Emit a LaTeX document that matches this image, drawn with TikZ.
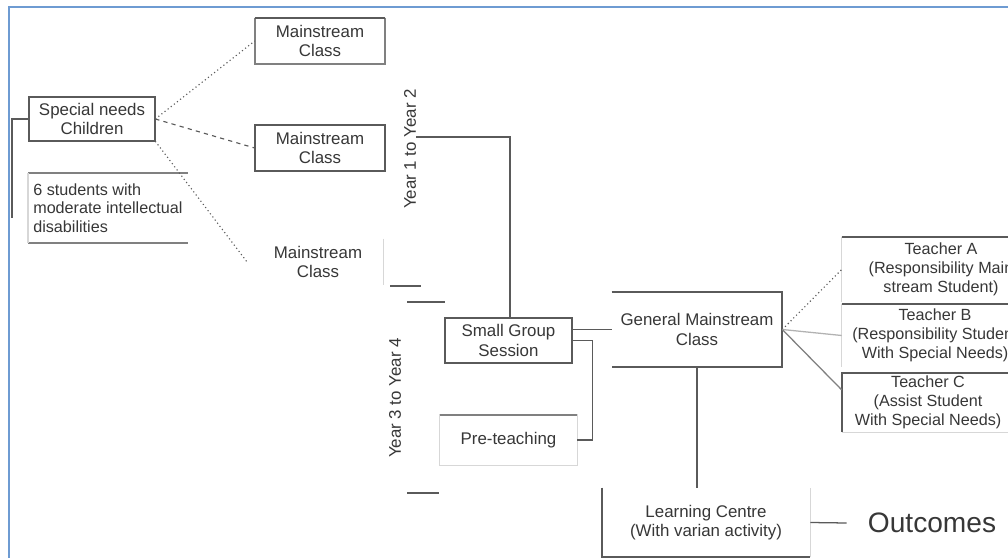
\documentclass[tikz,border=0pt]{standalone}
\usepackage{fontspec}
\setmainfont{Liberation Sans}
\definecolor{frameblue}{RGB}{110,155,210}
\definecolor{inkgray}{RGB}{55,55,55}
\definecolor{edgegray}{RGB}{90,90,90}
\definecolor{faintgray}{RGB}{215,215,215}
\begin{document}
\begin{tikzpicture}[x=0.025cm, y=-0.025cm,
    every node/.style={text=inkgray, font=\fontsize{12}{14}\selectfont, align=center, inner sep=0pt},
    frame/.style={draw=frameblue, line width=1.5pt},
    boxline/.style={draw=edgegray, line width=1.2pt},
    softline/.style={draw=faintgray, line width=0.8pt},
    link/.style={draw=edgegray, line width=0.9pt},
    dotlink/.style={draw=edgegray, line width=0.8pt, dotted},
    dashlink/.style={draw=edgegray, line width=0.8pt, dashed}]
    \useasboundingbox (0,0) rectangle (1008,558);
    \fill[white] (0,0) rectangle (1008,558);
    \draw[frame] (9,558) |- (1008,7);

    \begin{scope}
    \clip (10,8) rectangle (1008,558);

    % left column
    \node[minimum width=3.15cm, minimum height=1.1cm] (sn) at (92,119) {Special needs\\Children};
    \draw[boxline] (sn.north west) rectangle (sn.south east);
    \node[anchor=west, align=left, font=\fontsize{11.5}{13}\selectfont] (stud) at (33,208)
        {6 students with\\moderate intellectual\\disabilities};
    \coordinate (studtl) at (28,173);
    \coordinate (studbr) at (188,243);
    \draw[boxline, draw=gray] (studtl) -- (studtl -| studbr);
    \draw[boxline, draw=gray] (studtl |- studbr) -- (studbr);
    \draw[softline] (studtl) -- (studtl |- studbr);
    \coordinate (brk) at (12,218);
    \draw[link] (sn.west) -| (brk);

    % mainstream classes
    \node[minimum width=3.25cm, minimum height=1.15cm] (mc1) at (320,41) {Mainstream\\Class};
    \draw[boxline, draw=gray] (mc1.north east) |- (mc1.south west) -- (mc1.north west);
    \draw[boxline] (mc1.north west) -- (mc1.north east);
    \node[minimum width=3.25cm, minimum height=1.15cm] (mc2) at (320,148) {Mainstream\\Class};
    \draw[boxline] (mc2.north west) rectangle (mc2.south east);
    \node[minimum width=3.25cm, minimum height=1.15cm] (mc3) at (318,262) {Mainstream\\Class};
    \draw[softline] (mc3.north east) -- (mc3.south east);

    \draw[dotlink] (sn.east) -- (mc1.west);
    \draw[dashlink] (sn.east) -- (mc2.west);
    \draw[dotlink] (sn.south east) -- ([xshift=-4pt]mc3.west);

    % years
    \node[rotate=90] (y12) at (410,149) {Year 1 to Year 2};
    \node[rotate=90] (y34) at (395,398) {Year 3 to Year 4};
    \draw[link] (y12.south |- 0,137) -| (510,318);
    \draw[link] (390,286) -- (421,286);
    \draw[link] (407,302) -- (445,302);
    \draw[link] (407,493) -- (439,493);

    % sessions
    \node[minimum width=3.175cm, minimum height=1.125cm] (sgs) at (508.5,340.5) {Small Group\\Session};
    \draw[boxline] (sgs.north west) rectangle (sgs.south east);
    \node[minimum width=3.425cm, minimum height=1.25cm] (pre) at (508.5,440) {Pre-teaching};
    \draw[softline] (pre.north west) rectangle (pre.south east);
    \draw[boxline, draw=gray] (pre.north west) -- (pre.north east);
    \draw[link] (sgs.east) -- ++(20,0) |- (pre.east);

    % general class
    \node[minimum width=4.25cm, minimum height=1.875cm] (gm) at (697,329.5) {General Mainstream\\Class};
    \draw[boxline] (gm.north west) -| (gm.south east) -- (gm.south west);
    \draw[link] (gm.west) -- (gm.west -| sgs.east);

    % teachers
    \node[minimum width=4.95cm, minimum height=1.625cm, font=\fontsize{11.5}{13.5}\selectfont] (ta) at (941,269.5)
        {Teacher A\\(Responsibility Main\\stream Student)};
    \draw[softline] (ta.north west) -- (ta.south west);
    \draw[boxline] (ta.north west) -- (ta.north east);
    \node[minimum width=4.65cm, minimum height=1.575cm, font=\fontsize{11.5}{13.5}\selectfont] (tb) at (935,335.5)
        {Teacher B\\(Responsibility Student\\With Special Needs)};
    \draw[boxline] (tb.north west) -- (tb.north east);
    \draw[softline] (tb.north west) -- (tb.south west);
    \node[minimum width=4.3cm, minimum height=1.475cm, font=\fontsize{11.5}{13.5}\selectfont] (tc) at (928,402.5)
        {Teacher C\\(Assist Student\\With Special Needs)};
    \draw[boxline] (tc.north east) -- (tc.north west) -- (tc.south west);
    \draw[softline] (tc.south west) -- (tc.south east);
    \draw[dotlink] (gm.east) -- (ta.west);
    \draw[link, draw=gray!60] (gm.east) -- (tb.west);
    \draw[link, draw=gray] (gm.east) -- ([yshift=9pt]tc.west);

    % learning centre
    \node[minimum width=5.2cm, minimum height=1.725cm] (lc) at (706,522.5)
        {Learning Centre\\(With varian activity)};
    \draw[boxline] (lc.north west) |- (lc.south east);
    \draw[softline] (lc.south east) -- (lc.north east);
    \draw[link] (gm.south) -- (gm.south |- lc.north);
    \node[font=\fontsize{20}{24}\selectfont] (out) at (932,523) {Outcomes};
    \draw[link] (lc.east) -- ([xshift=-15pt]out.west);
    \end{scope}
\end{tikzpicture}
\end{document}
